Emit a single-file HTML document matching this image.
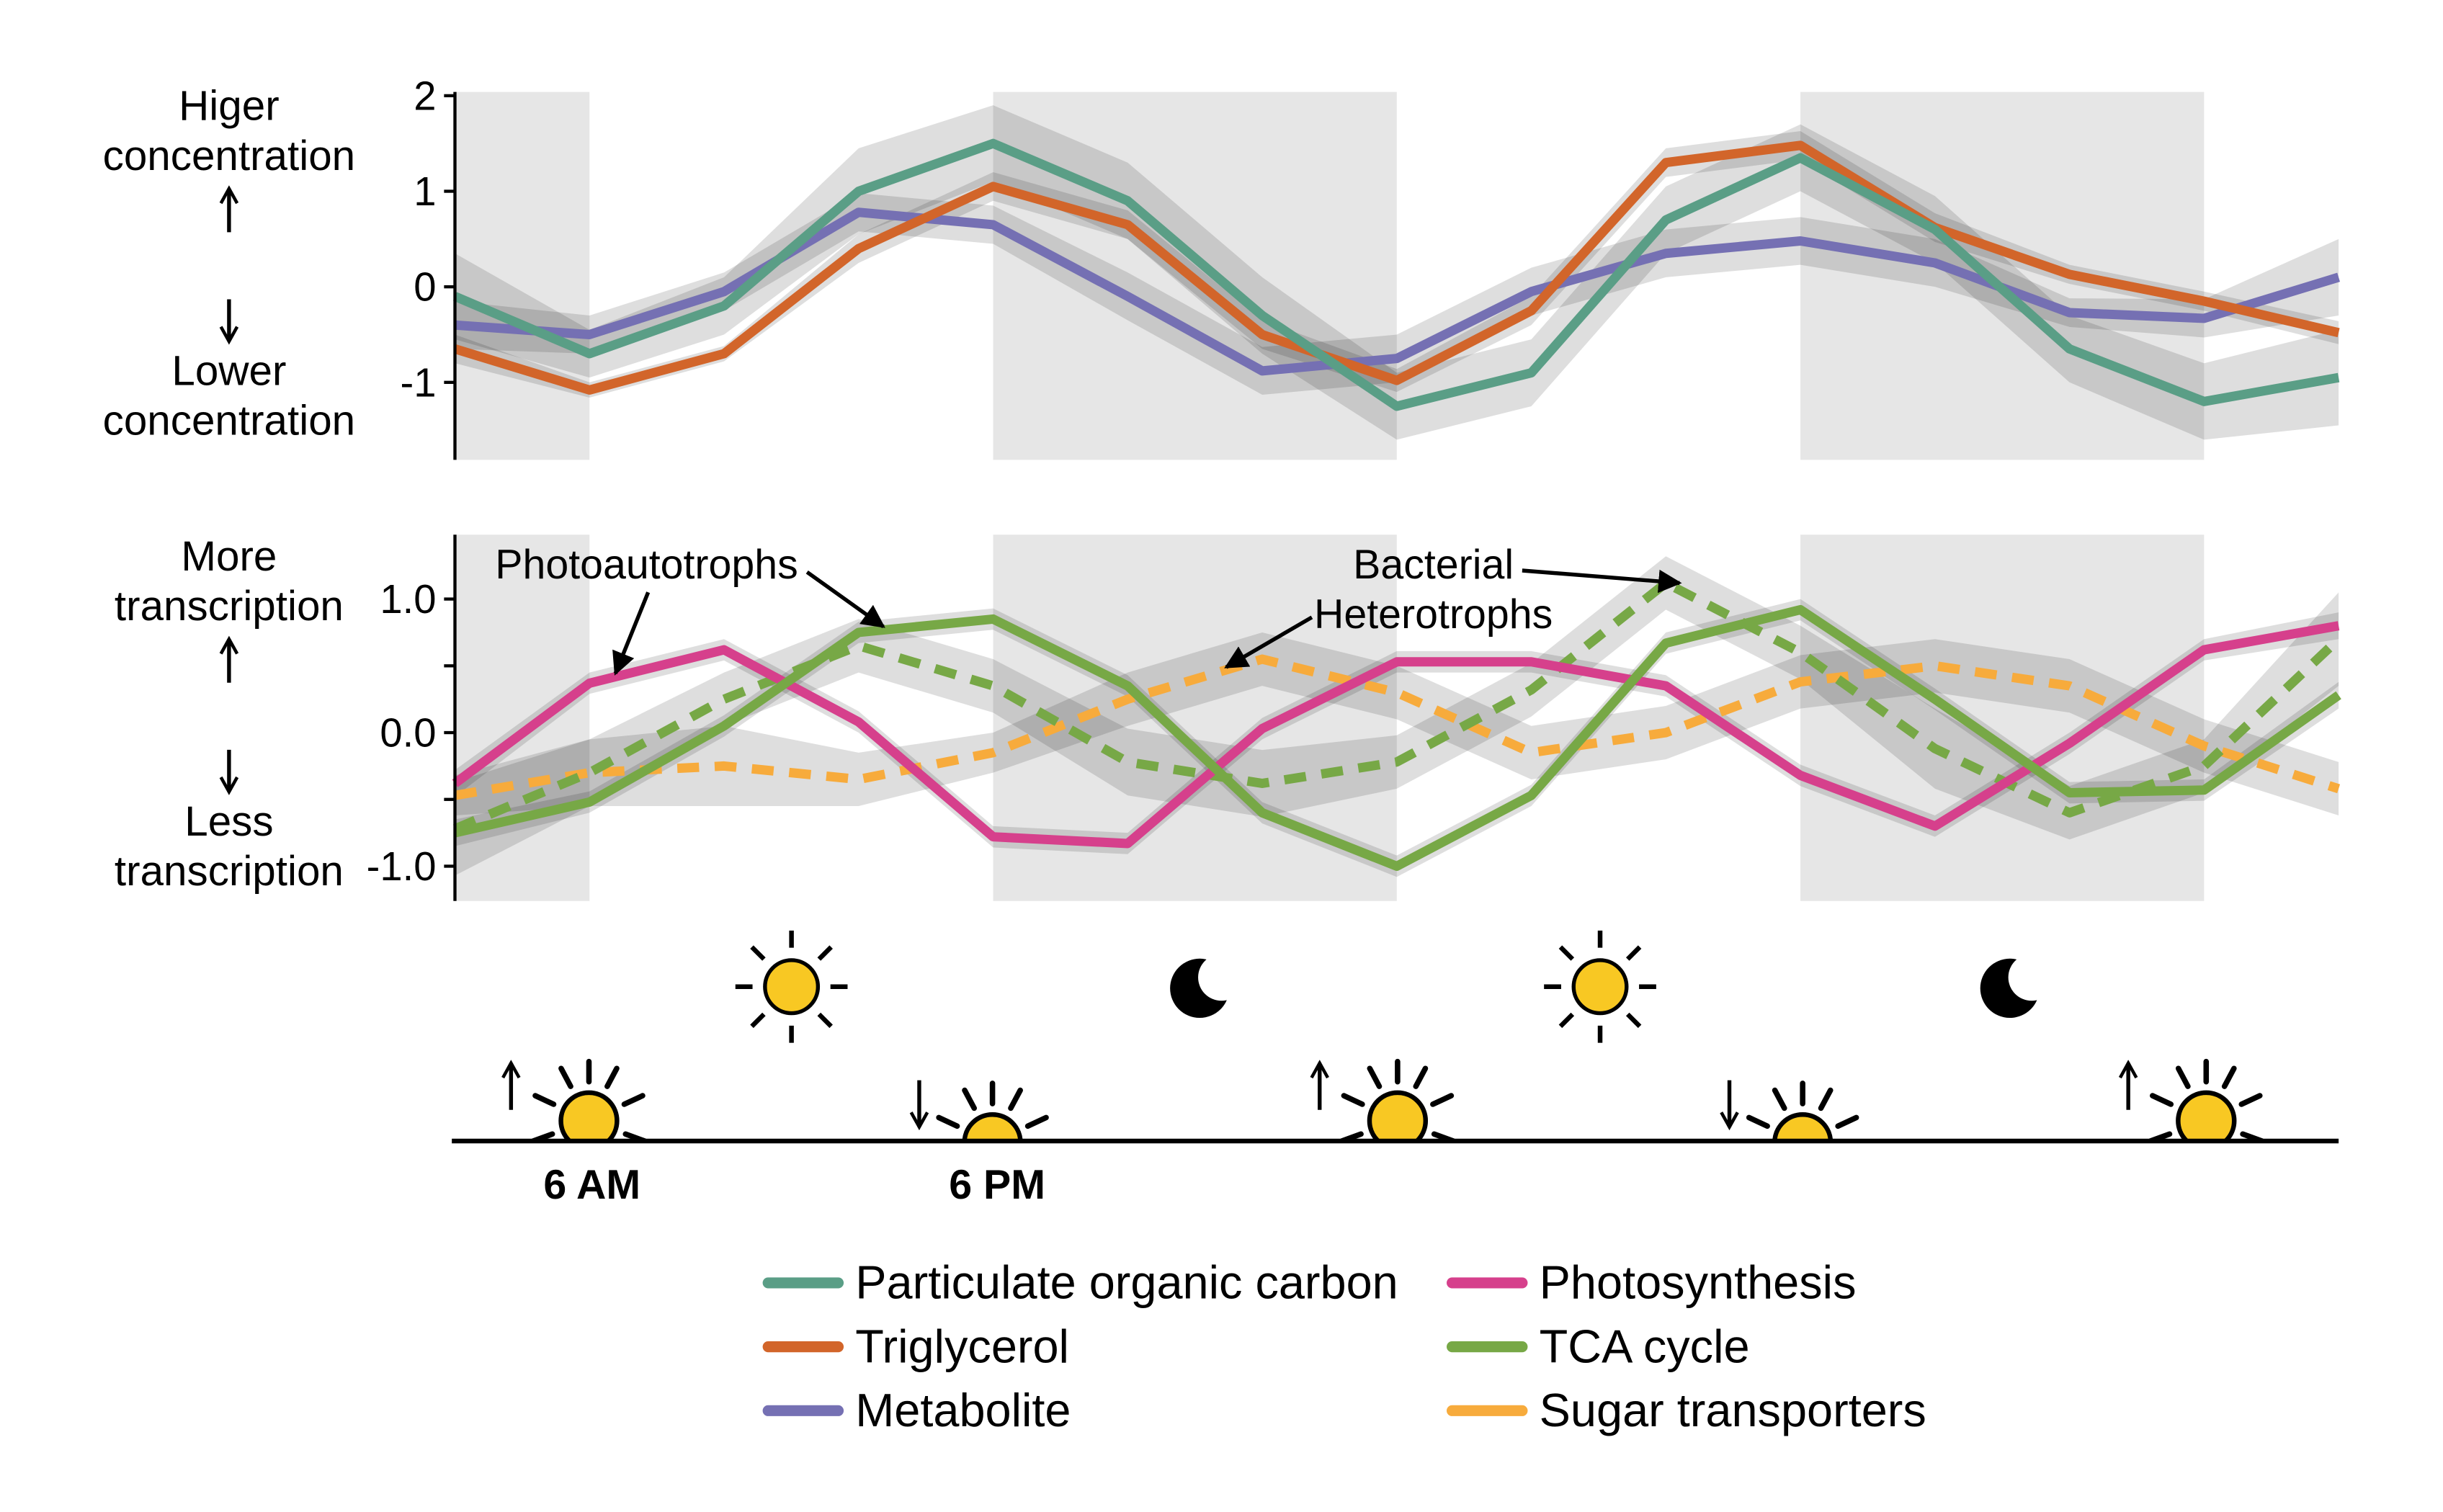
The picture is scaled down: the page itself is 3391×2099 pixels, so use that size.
<!DOCTYPE html>
<html><head><meta charset="utf-8"><style>
html,body{margin:0;padding:0;background:#fff}
svg{display:block}
text{font-family:"Liberation Sans",sans-serif;fill:#000}
</style></head><body>
<svg id="chart" width="3391" height="2099" viewBox="0 0 1568 970" preserveAspectRatio="none" xmlns="http://www.w3.org/2000/svg">
<defs>
<marker id="ah" viewBox="0 0 10 10" refX="9" refY="5" markerWidth="6" markerHeight="6" orient="auto"><path d="M0,0 L10,5 L0,10 z" fill="#000"/></marker>
<marker id="oh" viewBox="0 0 12 12" refX="10" refY="6" markerWidth="5" markerHeight="5" orient="auto"><path d="M1,1 L10,6 L1,11" fill="none" stroke="#000" stroke-width="2"/></marker>
<clipPath id="sky"><rect x="0" y="0" width="1568" height="731"/></clipPath>
</defs>
<g id="bg"></g><g id="bands"></g><g id="lines"></g><g id="axes"></g><g id="deco"></g>
</svg>
<script>
const timepoints=[0,1,2,3,4,5,6,7,8,9,10,11,12,13,14];
const darkPeriods=[[0,1],[4,7],[10,13]];
const topTicks=[2,1,0,-1];
const botTicks=[1.0,0.0,-1.0];
const botTickLabels=["1.0","0.0","-1.0"];
const pocVals=[-0.1,-0.7,-0.2,1.0,1.5,0.9,-0.3,-1.25,-0.9,0.7,1.35,0.6,-0.65,-1.2,-0.95];
const pocErr=[0.45,0.25,0.3,0.45,0.4,0.4,0.4,0.35,0.35,0.35,0.35,0.35,0.35,0.4,0.5];
const trigVals=[-0.65,-1.08,-0.7,0.4,1.05,0.65,-0.5,-0.98,-0.25,1.3,1.48,0.62,0.13,-0.15,-0.48];
const trigErr=[0.15,0.08,0.08,0.15,0.15,0.15,0.15,0.12,0.15,0.15,0.15,0.15,0.1,0.1,0.12];
const metVals=[-0.4,-0.5,-0.05,0.78,0.65,-0.1,-0.88,-0.75,-0.05,0.35,0.48,0.25,-0.27,-0.33,0.1];
const metErr=[0.25,0.2,0.2,0.2,0.2,0.25,0.25,0.25,0.25,0.25,0.25,0.25,0.15,0.2,0.4];
const photoVals=[-0.38,0.37,0.62,0.08,-0.78,-0.83,0.03,0.53,0.53,0.35,-0.32,-0.7,-0.08,0.62,0.8];
const photoErr=[0.1,0.08,0.08,0.08,0.08,0.08,0.08,0.08,0.08,0.08,0.08,0.08,0.08,0.08,0.1];
const tcaVals=[-0.75,-0.52,0.05,0.75,0.85,0.35,-0.6,-1.0,-0.47,0.67,0.92,0.25,-0.45,-0.43,0.28];
const tcaErr=[0.1,0.08,0.08,0.08,0.08,0.08,0.08,0.08,0.08,0.08,0.08,0.08,0.08,0.08,0.1];
const tcaHetVals=[-0.72,-0.3,0.25,0.65,0.35,-0.22,-0.38,-0.22,0.32,1.12,0.6,-0.12,-0.6,-0.25,0.7];
const tcaHetErr=[0.35,0.25,0.2,0.2,0.2,0.25,0.25,0.2,0.2,0.2,0.2,0.3,0.2,0.2,0.35];
const sugarVals=[-0.47,-0.3,-0.25,-0.35,-0.15,0.25,0.55,0.3,-0.15,0.0,0.38,0.5,0.35,-0.1,-0.42];
const sugarErr=[0.15,0.25,0.3,0.2,0.15,0.2,0.2,0.2,0.2,0.2,0.2,0.2,0.2,0.2,0.2];

const NS="http://www.w3.org/2000/svg";
function mk(tag,attrs,parent){const e=document.createElementNS(NS,tag);for(const k in attrs)e.setAttribute(k,attrs[k]);parent.appendChild(e);return e;}
const x=i=>292+i*(1501-292)/14;
const yTop=v=>184-v*61.3;
const yBot=v=>470-v*85.7;
const G=id=>document.getElementById(id);

[[59,295],[343,578]].forEach(([t,b])=>{
  darkPeriods.forEach(([a,c])=>{
    const r=mk('rect',{x:x(a),y:t,width:x(c)-x(a),height:b-t,fill:'#e6e6e6'},G('bg'));
    
    
  });
});

function series(vals,err,yf,color,name,dash){
  let up=vals.map((v,i)=>x(i)+','+yf(v+err[i]));
  let dn=vals.map((v,i)=>x(i)+','+yf(v-err[i])).reverse();
  const b=mk('polygon',{points:up.concat(dn).join(' '),fill:'rgba(0,0,0,0.13)'},G('bands'));
  
  
  const l=mk('polyline',{points:vals.map((v,i)=>x(i)+','+yf(v)).join(' '),fill:'none',stroke:color,'stroke-width':6,'stroke-linejoin':'round'},G('lines'));
  if(dash)l.setAttribute('stroke-dasharray','14 10');
  
  
}
series(metVals,metErr,yTop,'#7570b3','metabolite');
series(trigVals,trigErr,yTop,'#d2652a','triglycerol');
series(pocVals,pocErr,yTop,'#5a9e86','poc');
series(sugarVals,sugarErr,yBot,'#f7ab3c','sugar-transporters',true);
series(tcaHetVals,tcaHetErr,yBot,'#77a846','tca-heterotrophs',true);
series(photoVals,photoErr,yBot,'#d6408c','photosynthesis');
series(tcaVals,tcaErr,yBot,'#77a846','tca-cycle');

const ax=G('axes');
let a1=mk('line',{x1:292,y1:59,x2:292,y2:295,stroke:'#000','stroke-width':2},ax);

topTicks.forEach(v=>{
  mk('line',{x1:285,x2:292,y1:yTop(v),y2:yTop(v),stroke:'#000','stroke-width':2},ax);
  const t=mk('text',{x:280,y:yTop(v)+9,'text-anchor':'end','font-size':26},ax);t.textContent=v;
  
});
let a2=mk('line',{x1:292,y1:343,x2:292,y2:578,stroke:'#000','stroke-width':2},ax);

[1,0.5,0,-0.5,-1].forEach(v=>mk('line',{x1:285,x2:292,y1:yBot(v),y2:yBot(v),stroke:'#000','stroke-width':2},ax));
botTicks.forEach((v,i)=>{
  const t=mk('text',{x:280,y:yBot(v)+9,'text-anchor':'end','font-size':26},ax);t.textContent=botTickLabels[i];
  
});

const labs=[["Higer",77],["concentration",109],["Lower",247],["concentration",279],
["More",366],["transcription",398],["Less",536],["transcription",568]];
labs.forEach(([s,y])=>{const t=mk('text',{x:147,y:y,'text-anchor':'middle','font-size':27},ax);t.textContent=s;
});
[[147,149,147,121],[147,192,147,219],[147,438,147,410],[147,481,147,508]].forEach(([a,b,c,e])=>{
  const l=mk('line',{x1:a,y1:b,x2:c,y2:e,stroke:'#000','stroke-width':2.5,'marker-end':'url(#oh)'},ax);
  
});

const d=G('deco');
[["Photoautotrophs",415,371],["Bacterial",920,371],["Heterotrophs",920,403]].forEach(([s,xx,yy])=>{
  const t=mk('text',{x:xx,y:yy,'text-anchor':'middle','font-size':26.5},d);t.textContent=s;
  
});
[[416,380,395,432],[518,367,567,402],[977,366,1078,374],[842,396,787,428]].forEach(([a,b,c,e])=>
  mk('line',{x1:a,y1:b,x2:c,y2:e,stroke:'#000','stroke-width':2.5,'marker-end':'url(#ah)'},d));

function sun(cx,cy){
  const g=mk('g',{},d);
  
  [0,45,90,135,180,225,270,315].forEach(a=>{const r=a*Math.PI/180;mk('line',{x1:cx+25*Math.cos(r),y1:cy+25*Math.sin(r),x2:cx+36*Math.cos(r),y2:cy+36*Math.sin(r),stroke:'#000','stroke-width':3},g);});
  mk('circle',{cx,cy,r:17,fill:'#f8c823',stroke:'#000','stroke-width':2.5},g);
}
function hsun(cx,cy){
  const g=mk('g',{'clip-path':'url(#sky)'},d);
  
  [-90,-62,-118,-25,-155,20,160].forEach(a=>{const r=a*Math.PI/180;mk('line',{x1:cx+25*Math.cos(r),y1:cy+25*Math.sin(r),x2:cx+38*Math.cos(r),y2:cy+38*Math.sin(r),stroke:'#000','stroke-width':3.5,'stroke-linecap':'round'},g);});
  mk('circle',{cx,cy,r:18,fill:'#f8c823',stroke:'#000','stroke-width':3},g);
}
sun(508,633);sun(1027,633);
[770,1290].forEach((cx,i)=>{
  const m=mk('mask',{id:'mm'+i},d);
  mk('rect',{x:cx-30,y:600,width:60,height:70,fill:'#fff'},m);
  mk('circle',{cx:cx+14,cy:627,r:15,fill:'#000'},m);
  const c=mk('circle',{cx:cx,cy:634,r:19,fill:'#000',mask:'url(#mm'+i+')'},d);
  
});
[[378,1],[637,0],[897,1],[1157,0],[1416,1]].forEach(([cx,up])=>{
  hsun(cx,up?719:733);
  const l=mk('line',up?{x1:cx-50,y1:712,x2:cx-50,y2:682}:{x1:cx-47,y1:693,x2:cx-47,y2:723},d);
  l.setAttribute('stroke','#000');l.setAttribute('stroke-width','2.5');l.setAttribute('marker-end','url(#oh)');
  
});
const hz=mk('line',{x1:290,y1:732,x2:1501,y2:732,stroke:'#000','stroke-width':3},d);

[["6 AM",380],["6 PM",640]].forEach(([s,xx])=>{const t=mk('text',{x:xx,y:769,'text-anchor':'middle','font-size':26.5,'font-weight':'bold'},d);t.textContent=s;
});

const leg=[["Particulate organic carbon",'#5a9e86',493,823],["Triglycerol",'#d2652a',493,864],["Metabolite",'#7570b3',493,905],
["Photosynthesis",'#d6408c',932,823],["TCA cycle",'#77a846',932,864],["Sugar transporters",'#f7ab3c',932,905]];
leg.forEach(([s,c,lx,ly])=>{
  const g=mk('g',{},d);
  mk('line',{x1:lx,y1:ly,x2:lx+45,y2:ly,stroke:c,'stroke-width':7,'stroke-linecap':'round'},g);
  const t=mk('text',{x:lx+56,y:ly+10,'font-size':30},g);t.textContent=s;
});
</script>
</body></html>
